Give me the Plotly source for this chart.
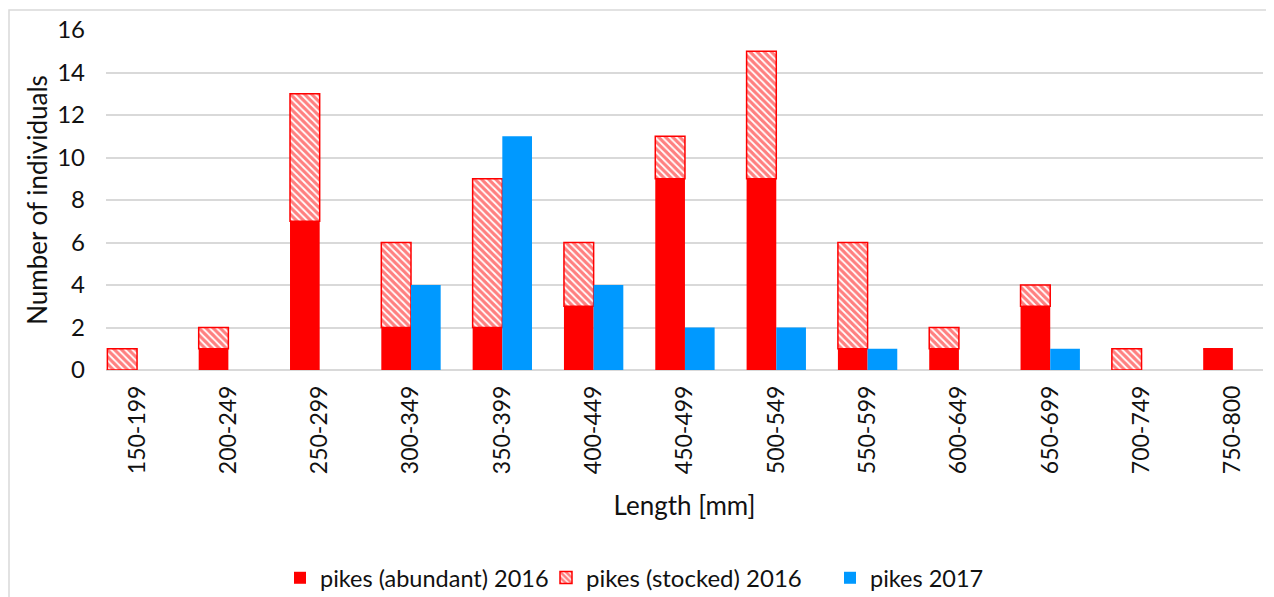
import plotly.graph_objects as go

categories = ["150-199", "200-249", "250-299", "300-349", "350-399", "400-449",
              "450-499", "500-549", "550-599", "600-649", "650-699", "700-749", "750-800"]
abundant_2016 = [0, 1, 7, 2, 2, 3, 9, 9, 1, 1, 3, 0, 1]
stocked_2016 = [1, 1, 6, 4, 7, 3, 2, 6, 5, 1, 1, 1, 0]
pikes_2017 = [0, 0, 0, 4, 11, 4, 2, 2, 1, 0, 1, 0, 0]

RED = "#ff0000"
BLUE = "#0099ff"
FONT = "Lato"
TXT = "#111111"

fig = go.Figure()
fig.add_trace(go.Bar(
    x=categories, y=abundant_2016, name="pikes (abundant) 2016",
    offsetgroup="2016", marker=dict(color=RED, line=dict(width=0)),
    legend="legend",
))
fig.add_trace(go.Bar(
    x=categories, y=stocked_2016, base=abundant_2016, name="pikes (stocked) 2016",
    offsetgroup="2016",
    marker=dict(color="white", line=dict(color=RED, width=1.5),
                pattern=dict(shape="\\", fgcolor=RED, bgcolor="white",
                             size=5, solidity=0.65, fillmode="overlay")),
    legend="legend2",
))
fig.add_trace(go.Bar(
    x=categories, y=pikes_2017, name="pikes 2017",
    offsetgroup="2017", marker=dict(color=BLUE, line=dict(width=0)),
    legend="legend3",
))

# page body has an 8px margin, so the figure starts at (8, 8) on screen
OFF = 8
W, H = 1274 - OFF, 597 - OFF
L, R, T, B = 106 - OFF, 11, 30 - OFF, 227
pw = W - L - R
ph = H - T - B


def px_x(sx):
    return (sx - OFF - L) / pw


def px_y(sy):
    return (T + ph - (sy - OFF)) / ph


def leg(sx, size=23.5):
    return dict(orientation="h", x=px_x(sx), xanchor="left",
                y=px_y(578), yanchor="middle", bgcolor="rgba(0,0,0,0)",
                font=dict(size=size, family=FONT, color=TXT),
                itemclick=False, itemdoubleclick=False)


fig.update_layout(
    width=W, height=H,
    margin=dict(l=L, r=R, t=T, b=B, autoexpand=False),
    barmode="group", bargap=0.35, bargroupgap=0,
    plot_bgcolor="white", paper_bgcolor="white",
    font=dict(family=FONT, size=24, color=TXT),
    showlegend=True,
    legend=leg(280),
    legend2=leg(546, 24),
    legend3=leg(830),
    xaxis=dict(
        range=[-0.34, 12.33], tickangle=-90, showgrid=False, automargin=False,
        showline=False, ticks="", ticklabelstandoff=10, tickfont=dict(size=23),
        title=dict(text="Length [mm]", font=dict(size=26), standoff=23),
    ),
    yaxis=dict(
        range=[0, 16], dtick=2, showgrid=True, gridcolor="#d9d9d9", gridwidth=1.5,
        automargin=False,
        zeroline=True, zerolinecolor="#d9d9d9", zerolinewidth=1.5,
        showline=False, ticks="", ticklabelstandoff=20, tickfont=dict(size=24),
        title=dict(text="Number of individuals", font=dict(size=26), standoff=2),
    ),
    shapes=[dict(type="rect", xref="paper", yref="paper",
                 x0=px_x(9), x1=px_x(1272),
                 y0=px_y(620), y1=px_y(10),
                 line=dict(color="#d9d9d9", width=1.5), fillcolor="rgba(0,0,0,0)",
                 layer="below")],
)

fig.write_html("out.html")
